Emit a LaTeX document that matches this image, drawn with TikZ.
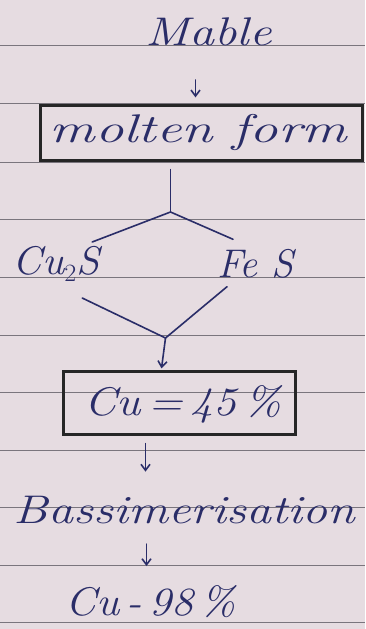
\documentclass[tikz,border=0pt]{standalone}
\usepackage{tikz}
\usetikzlibrary{arrows.meta,calc,positioning}
\definecolor{paper}{HTML}{E6DCE1}
\definecolor{ruling}{HTML}{7A757D}
\definecolor{ink}{HTML}{2A2D68}
\tikzset{
  word/.style={text=ink, font=\fontsize{40}{42}\selectfont\itshape, inner sep=0pt},
  wide/.style={xscale=#1, transform shape},
  framebox/.style={draw=black!85, line width=2.2pt, inner sep=0pt},
  flow/.style={draw=ink, line width=1.6pt, line cap=round},
  down/.style={flow, -{Straight Barb[length=6pt,width=9pt]}}
}

\begin{document}
\begin{tikzpicture}[x=1pt,y=-1pt]
  % paper and ruled lines
  \fill[paper] (0,0) rectangle (364,629);
  \foreach \yy in {45,103,162,219,277,335,392,450,507,565,622}
    \draw[ruling, line width=1pt] (0,\yy) -- (364,\yy);
  \useasboundingbox (0,0) rectangle (364,629);

  % Step A: matte goes to molten form
  \node[word, wide=1.25] (mable) at (208,32) {Mable};
  \node[framebox, minimum width=322pt, minimum height=55pt] (molten) at (201,133) {};
  \node[word, wide=1.42] (moltentxt) at (198,132) {molten form};
  \coordinate (mablefoot) at (195,80);
  \draw[down] (mablefoot) -- ($(mablefoot |- molten.north)+(0,-7)$);

  % Step B: split into the two sulphides
  \coordinate (split) at (170,212);
  \node[word, wide=1.05] (cu2s) at (56,264) {Cu$_2$S};
  \node[word] (fes) at (255,264) {Fe S};
  \draw[flow] (molten.south -| split) ++(0,8) -- (split);
  \draw[flow] (split) -- ($(cu2s.north east)+(-8,-4)$);
  \draw[flow] (split) -- ($(fes.north west)+(16,-10)$);

  % Step C: join again into the 45% product
  \coordinate (merge) at (165,338);
  \node[framebox, minimum width=232pt, minimum height=63pt] (cu45) at (179,403) {};
  \node[word, wide=1.15] (cu45txt) at (182,404) {Cu\,=\,45\,\%};
  \draw[flow] ($(cu2s.south east)+(-18,16)$) -- (merge);
  \draw[flow] ($(fes.south west)+(10,8)$) -- (merge);
  \draw[down] (merge) -- ($(merge |- cu45.north)+(-4,-2)$);

  % Step D: bessemerisation gives 98% copper
  \node[word, wide=1.25] (bess) at (184,510) {Bassimerisation};
  \node[word, wide=1.1] (cu98) at (150,602) {Cu\,-\,98\,\%};
  \draw[down] ($(cu45.south)+(-34,8)$) -- ($(cu45.south)+(-34,36)$);
  \draw[down] ($(bess.south)+(-38,20)$) -- ($(bess.south)+(-38,42)$);
\end{tikzpicture}
\end{document}
